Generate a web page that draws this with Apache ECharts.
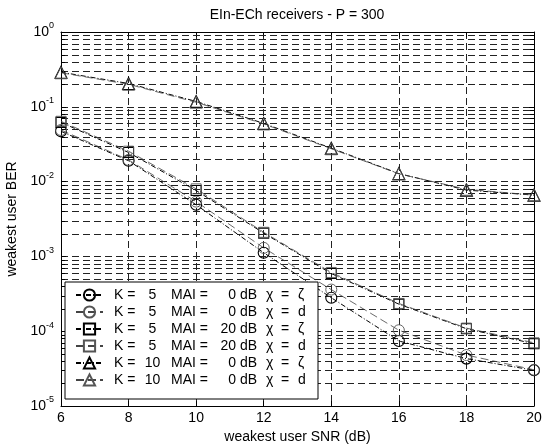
<!DOCTYPE html>
<html>
<head>
<meta charset="utf-8">
<script src="https://cdn.jsdelivr.net/npm/echarts@6/dist/echarts.min.js"></script>
<style>
  html, body { margin: 0; padding: 0; background: #fff; }
  #chart { width: 549px; height: 446px; }
</style>
</head>
<body>
<div id="chart"></div>
<script>
// SNR points (dB) on the x axis
const snr = [6, 8, 10, 12, 14, 16, 18, 20];

// Weakest-user BER for each receiver configuration
const berK5Mai0Zeta  = [0.047, 0.019, 0.0049, 0.00112, 2.8e-4, 7.4e-5, 4.3e-5, 3.0e-5];
const berK5Mai0D     = [0.049, 0.0195, 0.0054, 0.0013, 3.6e-4, 1.03e-4, 4.8e-5, 3.05e-5];
const berK5Mai20Zeta = [0.062, 0.0245, 0.0076, 0.00205, 5.9e-4, 2.3e-4, 1.08e-4, 6.8e-5];
const berK5Mai20D    = [0.064, 0.0255, 0.0080, 0.0021, 6.1e-4, 2.35e-4, 1.1e-4, 7.0e-5];
const berK10Mai0Zeta = [0.29, 0.205, 0.118, 0.060, 0.028, 0.0128, 0.0077, 0.0066];
const berK10Mai0D    = [0.285, 0.20, 0.115, 0.059, 0.0275, 0.0127, 0.0079, 0.0066];

// Legend fields
const legendK   = [5, 5, 5, 5, 10, 10];
const legendMai = [0, 0, 20, 20, 0, 0];
const legendChi = ['ζ', 'd', 'ζ', 'd', 'ζ', 'd'];

// Axis ranges / ticks
const xMin = 6, xMax = 20, xStep = 2;
const yMin = 1e-5, yMax = 1;
const yDecadeExp = [-5, -4, -3, -2, -1];
const minorMantissa = [2, 3, 4, 5, 6, 7, 8, 9];

const FONT = "'Liberation Sans', Arial, Helvetica, sans-serif";
const DIGIT_W = 7.78; // width of one digit at 14px

// 2..9 x 10^k helper lines inside each decade
const minorValues = [];
yDecadeExp.forEach(e => minorMantissa.forEach(m => minorValues.push(m * Math.pow(10, e))));

const seriesDefs = [
  { name: 'k5-mai0-zeta',  data: berK5Mai0Zeta,  symbol: 'circle',   size: 11, zeta: true },
  { name: 'k5-mai0-d',     data: berK5Mai0D,     symbol: 'circle',   size: 11, zeta: false },
  { name: 'k5-mai20-zeta', data: berK5Mai20Zeta, symbol: 'rect',     size: 10, zeta: true },
  { name: 'k5-mai20-d',    data: berK5Mai20D,    symbol: 'rect',     size: 10, zeta: false },
  { name: 'k10-mai0-zeta', data: berK10Mai0Zeta, symbol: 'triangle', size: 12, zeta: true },
  { name: 'k10-mai0-d',    data: berK10Mai0D,    symbol: 'triangle', size: 12, zeta: false }
];
const seriesNames = seriesDefs.map(d => d.name);

const gridDash = [7, 4];
const gridColor = '#222';

const curveSeries = seriesDefs.map(d => ({
  type: 'line',
  name: d.name,
  data: snr.map((x, i) => [x, d.data[i]]),
  symbol: d.symbol,
  symbolSize: d.size,
  showSymbol: true,
  showAllSymbol: true,
  z: 2,
  silent: true,
  lineStyle: {
    color: d.zeta ? '#000' : '#444',
    width: d.zeta ? 1 : 0.8,
    type: d.zeta ? [5, 2, 1, 2] : [8, 4]
  },
  itemStyle: {
    color: 'rgba(0,0,0,0)',
    borderColor: d.zeta ? '#000' : '#555',
    borderWidth: d.zeta ? 1.1 : 0.9
  },
  emphasis: { disabled: true }
}));

// Minor horizontal grid lines plus the inward minor ticks on both y edges
const minorGrid = {
  type: 'custom',
  silent: true,
  z: 1,
  data: minorValues.map(v => [xMin, v]),
  encode: { x: 0, y: 1 },
  renderItem: function (params, api) {
    const v = api.value(1);
    const p0 = api.coord([xMin, v]);
    const p1 = api.coord([xMax, v]);
    const y = Math.round(p0[1]) + 0.5;
    return {
      type: 'group',
      children: [
        { type: 'line', shape: { x1: p0[0], y1: y, x2: p1[0], y2: y },
          style: { stroke: gridColor, lineWidth: 1, lineDash: gridDash } },
        { type: 'line', shape: { x1: p0[0], y1: y, x2: p0[0] + 4, y2: y },
          style: { stroke: '#000', lineWidth: 1 } },
        { type: 'line', shape: { x1: p1[0] - 4, y1: y, x2: p1[0], y2: y },
          style: { stroke: '#000', lineWidth: 1 } }
      ]
    };
  }
};

// Legend text columns: everything is left-placed; spacer widths keep
// the K value centred and the MAI value right-aligned in their columns.
function legendLine(i) {
  const kW = String(legendK[i]).length * DIGIT_W;
  const maiW = String(legendMai[i]).length * DIGIT_W;
  const kLead = 34.6 + (DIGIT_W - kW) / 2;     // "K =" column up to the number
  const kNum = 50 - kLead;                      // number column to the spacer
  const mLead = 65 - maiW;                      // "MAI =" column up to the value
  return '{s|}{k' + i + '|K =}{n' + i + '|' + legendK[i] + '}' +
         '{m' + i + '|MAI =}{v' + i + '|' + legendMai[i] + '}' +
         '{u| dB}{c1|χ}{c2|=}{c3|' + legendChi[i] + '}';
}
const legendRich = {
  s:  { width: 6, lineHeight: 14, fontSize: 14 },
  u:  { width: 30, lineHeight: 14, fontSize: 14 },
  c1: { width: 15, lineHeight: 14, fontSize: 14 },
  c2: { width: 17, lineHeight: 14, fontSize: 14 },
  c3: { width: 10, lineHeight: 14, fontSize: 14 }
};
legendK.forEach((k, i) => {
  const kW = String(k).length * DIGIT_W;
  const maiW = String(legendMai[i]).length * DIGIT_W;
  const kLead = 34.6 + (DIGIT_W - kW) / 2;
  legendRich['k' + i] = { width: kLead, lineHeight: 14, fontSize: 14 };
  legendRich['n' + i] = { width: 57 - kLead, lineHeight: 14, fontSize: 14 };
  legendRich['m' + i] = { width: 65 - maiW, lineHeight: 14, fontSize: 14 };
  legendRich['v' + i] = { width: maiW, lineHeight: 14, fontSize: 14 };
});

const axisLineStyle = { show: true, lineStyle: { color: '#000', width: 1 } };
const tickStyle = { show: true, inside: true, length: 5, lineStyle: { color: '#000', width: 1 } };

const option = {
  animation: false,
  backgroundColor: '#fff',
  textStyle: { fontFamily: FONT },
  title: {
    text: 'EIn-ECh receivers - P = 300',
    left: 297,
    top: 8,
    padding: 0,
    textAlign: 'center',
    textStyle: { fontFamily: FONT, fontSize: 14, fontWeight: 'normal', color: '#000' }
  },
  grid: { left: 61, right: 15, top: 32, bottom: 40, show: false, containLabel: false, outerBoundsMode: 'none' },
  legend: {
    orient: 'vertical',
    left: 65,
    top: 282,
    padding: [6, 10, 12, 10],
    itemWidth: 27,
    itemHeight: 14,
    itemGap: 3,
    backgroundColor: '#fff',
    borderColor: '#000',
    borderWidth: 1,
    borderRadius: 0,
    selectedMode: false,
    data: seriesNames,
    formatter: function (name) {
      return legendLine(seriesNames.indexOf(name));
    },
    textStyle: { fontFamily: FONT, fontSize: 14, color: '#000', rich: legendRich }
  },
  xAxis: [
    {
      type: 'value', min: xMin, max: xMax, interval: xStep,
      position: 'bottom',
      name: 'weakest user SNR (dB)',
      nameLocation: 'middle',
      nameGap: 23,
      nameTextStyle: { fontFamily: FONT, fontSize: 14, color: '#000' },
      axisLine: axisLineStyle,
      axisTick: tickStyle,
      axisLabel: { fontFamily: FONT, fontSize: 14, color: '#000', margin: 5 },
      splitLine: { show: true, lineStyle: { color: gridColor, width: 1, type: gridDash } }
    },
    {
      type: 'value', min: xMin, max: xMax, interval: xStep,
      position: 'top',
      axisLine: axisLineStyle,
      axisTick: tickStyle,
      axisLabel: { show: false },
      splitLine: { show: false }
    }
  ],
  yAxis: [
    {
      type: 'log', logBase: 10, min: yMin, max: yMax,
      position: 'left',
      name: 'weakest user BER',
      nameLocation: 'middle',
      nameGap: 30,
      nameTextStyle: { fontFamily: FONT, fontSize: 14, color: '#000' },
      axisLine: axisLineStyle,
      axisTick: tickStyle,
      axisLabel: {
        margin: 7,
        color: '#000',
        formatter: function (v) {
          return '{b|10}{e|' + Math.round(Math.log10(v)) + '}';
        },
        rich: {
          b: { fontFamily: FONT, fontSize: 14, color: '#000' },
          e: { fontFamily: FONT, fontSize: 9, color: '#000', padding: [0, 0, 12, 0] }
        }
      },
      splitLine: { show: true, lineStyle: { color: gridColor, width: 1, type: gridDash } },
      minorTick: { show: false },
      minorSplitLine: { show: false }
    },
    {
      type: 'log', logBase: 10, min: yMin, max: yMax,
      position: 'right',
      axisLine: axisLineStyle,
      axisTick: tickStyle,
      axisLabel: { show: false },
      splitLine: { show: false }
    }
  ],
  series: [minorGrid].concat(curveSeries)
};

const chart = echarts.init(document.getElementById('chart'), null, { renderer: 'canvas' });
chart.setOption(option);
</script>
</body>
</html>
